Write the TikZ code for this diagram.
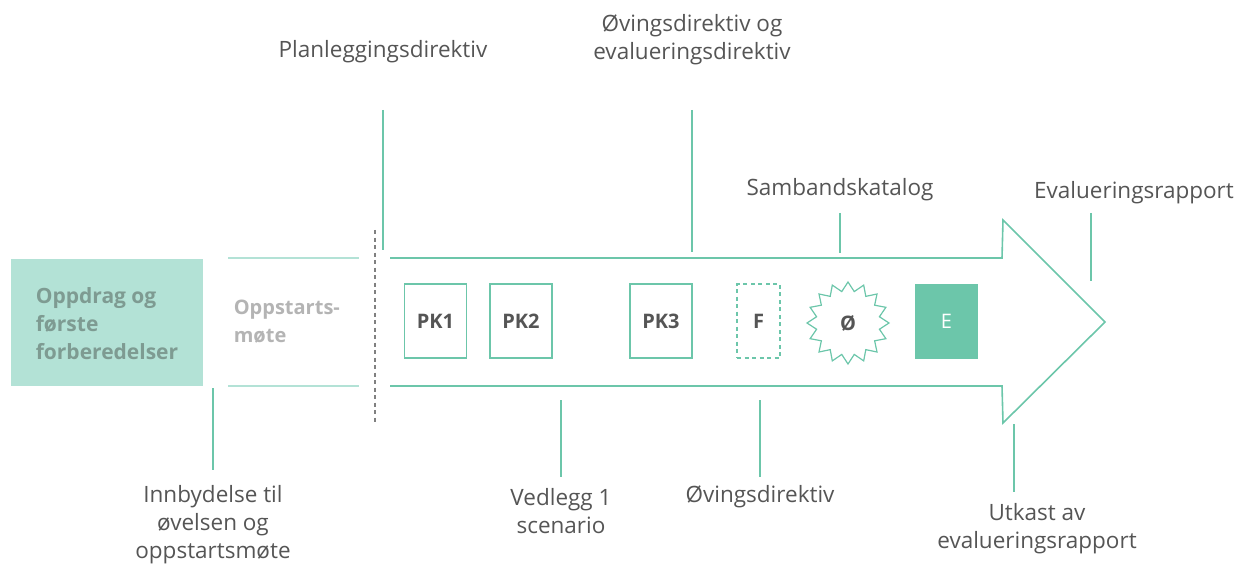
\documentclass[tikz,border=0pt]{standalone}
\usepackage{fontspec}
\setmainfont{Open Sans}
\usetikzlibrary{shapes.geometric}
\definecolor{teal}{HTML}{6CC6AA}
\definecolor{lightteal}{HTML}{B3E2D6}
\definecolor{textgray}{HTML}{555555}
\definecolor{boxtext}{HTML}{7E9B92}
\definecolor{paletext}{HTML}{B4B4B4}

\begin{document}
\begin{tikzpicture}[x=1pt,y=-1pt,line width=1.6pt,
      tick/.style={draw=teal},
      lbl/.style={text=textgray,font=\fontsize{22.5}{28}\selectfont,align=center,inner sep=0pt},
      pk/.style={draw=teal,minimum width=62pt,minimum height=74pt,text=textgray,font=\fontsize{20}{24}\selectfont\bfseries},
      ]
  \useasboundingbox (0,0) rectangle (1234,564);
  % left part
  \node[fill=lightteal,minimum width=192pt,minimum height=127pt,text=boxtext,align=left,
        font=\fontsize{21}{28}\selectfont\bfseries,inner sep=0pt,text width=168pt] (oppdrag) at (107,322)
        {};
  \node[text=boxtext,align=left,anchor=west,font=\fontsize{21}{28}\selectfont\bfseries,inner sep=0pt] (oppdragtxt) at (35,324)
        {Oppdrag og\\første\\forberedelser};
  \coordinate (mt) at (228,258); \coordinate (mt2) at (359,258);
  \coordinate (mb) at (228,386); \coordinate (mb2) at (359,386);
  \draw[draw=lightteal] (mt) -- (mt2) (mb) -- (mb2);
  \node[text=paletext,font=\fontsize{20}{28}\selectfont\bfseries,align=left,anchor=west,inner sep=0pt] (oppstart) at (233,322) {Oppstarts-\\møte};
  \coordinate (d1) at (375,230); \coordinate (d2) at (375,424);
  \draw[gray,line width=1.2pt,dash pattern=on 4pt off 3.5pt] (d1) -- (d2);
  % the arrow
  \draw[teal,line join=miter] (390,258) -- (1002,258) -- (1003,220) -- (1105,322) -- (1003,423) -- (1002,386) -- (390,386);
  \node[pk] (pk1) at (435.5,321) {PK1};
  \node[pk] (pk2) at (521,321) {PK2};
  \node[pk] (pk3) at (661,321) {PK3};
  \node[pk,dash pattern=on 4pt off 3.5pt,minimum width=43pt] (f) at (758.5,321) {F};
  \node[star,star points=16,star point ratio=1.28,draw=teal,line width=1.2pt,minimum size=82pt,
        text=textgray,font=\fontsize{20}{24}\selectfont\bfseries,inner sep=0pt] (ov) at (848,323) {Ø};
  \node[pk,fill=teal,text=white,font=\fontsize{20}{24}\selectfont] (e) at (946.5,321.5) {E};
  % labels above
  \node[lbl] (plan) at (383,52) {Planleggingsdirektiv};
  \node[lbl] (ovev) at (692,40) {Øvingsdirektiv og\\evalueringsdirektiv};
  \node[lbl] (samb) at (840,190) {Sambandskatalog};
  \node[lbl] (evrap) at (1134,193) {Evalueringsrapport};
  \coordinate (a1) at (383,110); \coordinate (a1e) at (383,250);
  \coordinate (a2) at (692,110); \coordinate (a2e) at (692,252);
  \coordinate (a3) at (840,213); \coordinate (a3e) at (840,253);
  \coordinate (a4) at (1091,213); \coordinate (a4e) at (1091,281);
  \draw[tick] (a1) -- (a1e) (a2) -- (a2e) (a3) -- (a3e) (a4) -- (a4e);
  % labels below
  \node[lbl] (innb) at (213,525) {Innbydelse til\\øvelsen og\\oppstartsmøte};
  \node[lbl] (vedl) at (561,511) {Vedlegg 1\\scenario};
  \node[lbl] (ovdir) at (760,497) {Øvingsdirektiv};
  \node[lbl] (utk) at (1037,529) {Utkast av\\evalueringsrapport};
  \coordinate (b1) at (213,388); \coordinate (b1e) at (213,470);
  \coordinate (b2) at (561,400); \coordinate (b2e) at (561,477);
  \coordinate (b3) at (760,400); \coordinate (b3e) at (760,477);
  \coordinate (b4) at (1014,424); \coordinate (b4e) at (1014,492);
  \draw[tick] (b1) -- (b1e) (b2) -- (b2e) (b3) -- (b3e) (b4) -- (b4e);
\end{tikzpicture}
\end{document}
